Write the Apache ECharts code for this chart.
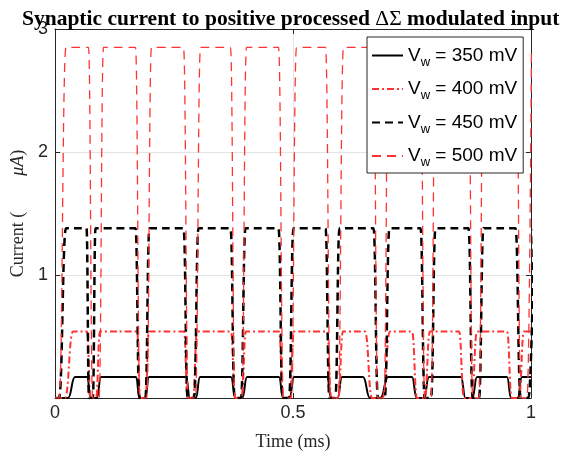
<!DOCTYPE html>
<html>
<head>
<meta charset="utf-8">
<script src="https://cdn.jsdelivr.net/npm/echarts@6/dist/echarts.min.js"></script>
<style>
  html, body { margin: 0; padding: 0; background: #ffffff; }
  #chart { width: 566px; height: 459px; }
</style>
</head>
<body>
<div id="chart"></div>
<script>
// Axis ticks: time in ms, current in µA
const timeTicks = [0, 0.5, 1];
const currentTicks = [0, 1, 2, 3];

// Weight voltages, in legend order
const weightLabels = ['350 mV', '400 mV', '450 mV', '500 mV'];

// Plateau current reached during each pulse (µA)
const plateau350 = 0.17;
const plateau400 = 0.54;
const plateau450 = 1.38;
const plateau500 = 2.85;

// First rising edge: [start of rise, plateau reached] (ms)
const firstRise350 = [0.0273, 0.0420];
const firstRise400 = [0.0210, 0.0378];
const firstRise450 = [0.0084, 0.0231];
const firstRise500 = [0.0084, 0.0231];

// Gaps between pulses: [end of plateau, start of next plateau] (ms)
const gaps350 = [
  [0.0672, 0.0966], [0.1702, 0.1975], [0.2752, 0.3046], [0.3697, 0.4034], [0.4706, 0.5021],
  [0.5714, 0.6029], [0.6471, 0.6996], [0.7500, 0.7857], [0.8529, 0.8866], [0.9496, 0.9811]
];
const gaps400 = [
  [0.0672, 0.0945], [0.1723, 0.1975], [0.2710, 0.2983], [0.3697, 0.4013], [0.4706, 0.5021],
  [0.5714, 0.6050], [0.6513, 0.7038], [0.7500, 0.7878], [0.8487, 0.8866], [0.9496, 0.9853]
];
const gaps450 = [
  [0.0662, 0.0851], [0.1691, 0.1985], [0.2700, 0.3015], [0.3687, 0.4002], [0.4695, 0.5011],
  [0.5683, 0.5977], [0.6691, 0.7027], [0.7679, 0.7994], [0.8687, 0.9002], [0.9674, 1.0063]
];
const gaps500 = [
  [0.0704, 0.1019], [0.1691, 0.2027], [0.2700, 0.3057], [0.3687, 0.4023], [0.4695, 0.5074],
  [0.5683, 0.6061], [0.6691, 0.7006], [0.7679, 0.7994], [0.8687, 0.9002], [0.9695, 1.0010]
];

// Turn a pulse description into [time, current] points; the line is
// rounded by ECharts' monotone smoothing.
function pulseTrain(firstRise, gaps, level) {
  const pts = [[0, 0], [firstRise[0], 0], [firstRise[1], level]];
  gaps.forEach(function (g) {
    const f = g[0], r = g[1], w = r - f;
    pts.push([f, level], [f + 0.28 * w, 0], [r - 0.3 * w, 0], [r, level]);
  });
  const last = gaps[gaps.length - 1][1];
  if (last < 1) pts.push([1, level]);
  return pts;
}

const red = '#ff3333';
const ink = '#262626';

const lineSeries = [
  { name: weightLabels[0], data: pulseTrain(firstRise350, gaps350, plateau350),
    lineStyle: { color: '#000', width: 2, type: 'solid' } },
  { name: weightLabels[1], data: pulseTrain(firstRise400, gaps400, plateau400),
    lineStyle: { color: red, width: 2, type: [7, 3, 2, 3] } },
  { name: weightLabels[2], data: pulseTrain(firstRise450, gaps450, plateau450),
    lineStyle: { color: '#000', width: 2.5, type: [8, 5] } },
  { name: weightLabels[3], data: pulseTrain(firstRise500, gaps500, plateau500),
    lineStyle: { color: red, width: 1.3, type: [9, 6] } }
].map(function (s) {
  return Object.assign({
    type: 'line',
    xAxisIndex: 0,
    yAxisIndex: 0,
    showSymbol: false,
    symbol: 'none',
    smooth: 0.5,
    smoothMonotone: 'x',
    clip: true,
    itemStyle: { color: s.lineStyle.color },
    animation: false
  }, s);
});

const chart = echarts.init(document.getElementById('chart'), null, { renderer: 'canvas' });

chart.setOption({
  animation: false,
  backgroundColor: '#ffffff',
  title: {
    text: '{b|Synaptic current to positive processed }{m|ΔΣ}{b| modulated input}',
    left: 17,
    top: 3,
    textStyle: {
      rich: {
        b: { fontFamily: 'Liberation Serif', fontWeight: 'bold', fontSize: 21.5, color: '#000' },
        m: { fontFamily: 'Liberation Serif', fontWeight: 'normal', fontSize: 21.5, color: '#000' }
      }
    }
  },
  grid: { left: 55, right: 35, top: 29, bottom: 61, containLabel: false },
  legend: {
    orient: 'vertical',
    left: 367,
    top: 37,
    itemWidth: 31,
    itemHeight: 14,
    itemGap: 11,
    padding: [9, 6, 4, 4],
    backgroundColor: '#ffffff',
    borderColor: ink,
    borderWidth: 1,
    itemStyle: { opacity: 0 },
    data: weightLabels,
    formatter: function (name) {
      return '{v|V}{s|w}{t| = ' + name + '}';
    },
    textStyle: {
      rich: {
        v: { fontFamily: 'Liberation Sans', fontSize: 19, color: '#000', lineHeight: 22 },
        s: { fontFamily: 'Liberation Sans', fontSize: 13, color: '#000', lineHeight: 26, verticalAlign: 'bottom' },
        t: { fontFamily: 'Liberation Sans', fontSize: 19, color: '#000', lineHeight: 22 }
      }
    }
  },
  xAxis: [
    {
      type: 'value', position: 'bottom',
      min: timeTicks[0], max: timeTicks[timeTicks.length - 1], interval: timeTicks[1] - timeTicks[0],
      name: 'Time (ms)', nameLocation: 'middle', nameGap: 35,
      nameTextStyle: { fontFamily: 'Liberation Serif', fontSize: 18, color: ink },
      axisLine: { show: true, onZero: false, lineStyle: { color: ink, width: 1 } },
      axisTick: { show: true, inside: true, length: 5, lineStyle: { color: ink } },
      axisLabel: { fontFamily: 'Liberation Sans', fontSize: 18, color: ink, margin: 6,
        formatter: function (v) { return String(v); } },
      splitLine: { show: true, lineStyle: { color: '#e4e4e4', width: 1 } }
    },
    {
      type: 'value', position: 'top',
      min: timeTicks[0], max: timeTicks[timeTicks.length - 1], interval: timeTicks[1] - timeTicks[0],
      axisLine: { show: true, onZero: false, lineStyle: { color: ink, width: 1 } },
      axisTick: { show: true, inside: true, length: 5, lineStyle: { color: ink } },
      axisLabel: { show: false },
      splitLine: { show: false }
    }
  ],
  yAxis: [
    {
      type: 'value', position: 'left',
      min: currentTicks[0], max: currentTicks[currentTicks.length - 1], interval: currentTicks[1] - currentTicks[0],
      name: '{a|Current (        }{i|μA}{a|)}', nameLocation: 'middle', nameGap: 25, nameRotate: 90,
      nameTextStyle: {
        rich: {
          a: { fontFamily: 'Liberation Serif', fontSize: 18, color: ink },
          i: { fontFamily: 'Liberation Serif', fontSize: 18, fontStyle: 'italic', color: ink }
        }
      },
      axisLine: { show: true, onZero: false, lineStyle: { color: ink, width: 1 } },
      axisTick: { show: true, inside: true, length: 5, lineStyle: { color: ink } },
      axisLabel: { fontFamily: 'Liberation Sans', fontSize: 18, color: ink, margin: 7,
        formatter: function (v) { return v === 0 ? '' : String(v); } },
      splitLine: { show: true, lineStyle: { color: '#e4e4e4', width: 1 } }
    },
    {
      type: 'value', position: 'right',
      min: currentTicks[0], max: currentTicks[currentTicks.length - 1], interval: currentTicks[1] - currentTicks[0],
      axisLine: { show: true, onZero: false, lineStyle: { color: ink, width: 1 } },
      axisTick: { show: true, inside: true, length: 5, lineStyle: { color: ink } },
      axisLabel: { show: false },
      splitLine: { show: false }
    }
  ],
  series: lineSeries
});
</script>
</body>
</html>
